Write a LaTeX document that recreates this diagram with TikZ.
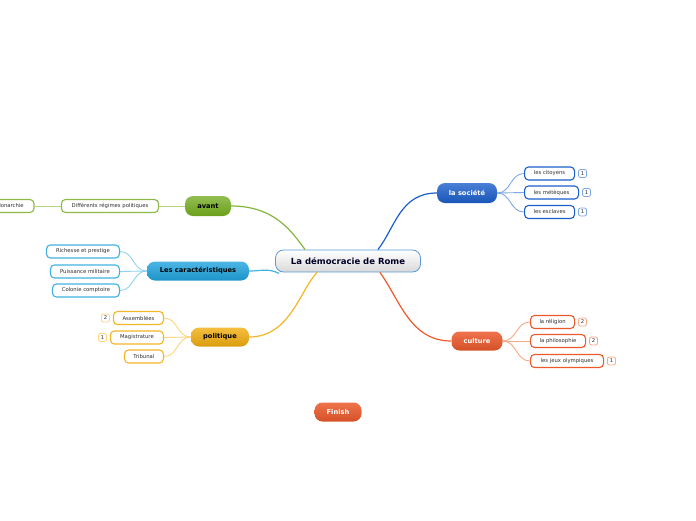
\documentclass[tikz,border=0pt]{standalone}
\usepackage{fontspec}
\setmainfont{DejaVu Sans}
\usetikzlibrary{positioning}

\definecolor{avantc}{HTML}{6FA81A}
\definecolor{avantl}{HTML}{B3D77A}
\definecolor{carc}{HTML}{1FA4DE}
\definecolor{carl}{HTML}{8ED2F2}
\definecolor{polc}{HTML}{F2AE0F}
\definecolor{poll}{HTML}{FAD57C}
\definecolor{socc}{HTML}{1B5FCC}
\definecolor{socl}{HTML}{7FA7E6}
\definecolor{culc}{HTML}{EC5A2C}
\definecolor{cull}{HTML}{F6A88A}
\definecolor{romeb}{HTML}{5B9BD5}
\definecolor{leaftext}{HTML}{2E2E2E}

\tikzset{
  topic/.style={rounded corners=8pt,minimum height=19pt,inner sep=0pt,
    font=\fontsize{6.7}{8}\selectfont\bfseries},
  leaf/.style={draw,fill=white,rounded corners=4pt,line width=1.1pt,
    minimum height=13pt,inner sep=0pt,text=leaftext,
    font=\fontsize{5.3}{6}\selectfont},
  badge/.style={draw,fill=white,rounded corners=2pt,line width=0.8pt,
    minimum size=8pt,inner sep=0pt,text=leaftext,
    font=\fontsize{5.3}{6}\selectfont},
  link/.style={line width=0.9pt},
  mainlink/.style={line width=1.2pt}
}

\begin{document}
\begin{tikzpicture}[x=1pt,y=-1pt]
\useasboundingbox (0,0) rectangle (696,520);
\clip (0,0) rectangle (696,520);
\def\gap{3pt}
% ================= centre =================
\node[topic,draw=romeb,line width=0.8pt,top color=white,bottom color=gray!30,
  minimum width=145pt,minimum height=22pt,text=black!85!blue,
  font=\fontsize{8.5}{10}\selectfont\bfseries] (rome) at (348,261) {La démocracie de Rome};
% ================= main topics =================
\node[topic,top color=avantc!75,bottom color=avantc!95!black,minimum width=46pt,
  minimum height=20pt,text=black] (avant) at (208,206) {avant};
\node[topic,top color=carc!80,bottom color=carc!90!black,minimum width=102pt,
  text=black] (car) at (198,271) {Les caractéristiques};
\node[topic,top color=polc!80,bottom color=polc!90!black,minimum width=58pt,
  text=black] (pol) at (220,337) {politique};
\node[topic,top color=socc!80,bottom color=socc!90!black,minimum width=60pt,
  minimum height=20pt,text=white] (soc) at (467,193) {la société};
\node[topic,top color=culc!85,bottom color=culc!90!black,minimum width=51pt,
  text=white] (cul) at (477,341) {culture};
\node[topic,top color=culc!85,bottom color=culc!90!black,minimum width=47pt,
  text=white] (finish) at (338,412) {Finish};
% links to the centre
\draw[mainlink,avantc!85] (avant.east) .. controls (275,206) and (292,232) .. ([xshift=30pt]rome.north west);
\draw[mainlink,carc!85] (car.east) .. controls (262,271) and (268,268) .. ([xshift=4pt,yshift=-1pt]rome.south west);
\draw[mainlink,polc!90] (pol.east) .. controls (290,337) and (300,290) .. ([xshift=42pt]rome.south west);
\draw[mainlink,socc] (soc.west) .. controls (400,193) and (395,228) .. ([xshift=-43pt]rome.north east);
\draw[mainlink,culc] (cul.west) .. controls (410,341) and (400,300) .. ([xshift=-41pt]rome.south east);
% ================= avant =================
\node[leaf,draw=avantc!80,minimum width=97pt] (diff) at (110,206) {Différents régimes politiques};
\node[leaf,draw=avantc!80,minimum width=48pt] (mon) at (10,206) {Monarchie};
\draw[link,avantl] (avant.west) -- (diff.east);
\draw[link,avantl] (diff.west) -- (mon.east);
% ================= les caractéristiques =================
\foreach \lab/\y/\w [count=\i] in {Richesse et prestige/251.5/73,
  Puissance militaire/271.5/69,Colonie comptoire/290.5/67}{
  \node[leaf,draw=carc!85,minimum width=\w pt,anchor=east] (car\i) at (120,\y) {\lab};
  \draw[link,carl] (car.west) .. controls +(-14,0) and +(14,0) .. (car\i.east);
}
% ================= politique =================
\foreach \lab/\y/\w/\k [count=\i] in {Assemblées/318/50/2,Magistrature/337.5/53/1,
  Tribunal/356.5/39/}{
  \node[leaf,draw=polc!90,minimum width=\w pt,anchor=east] (pol\i) at (164,\y) {\lab};
  \draw[link,poll] (pol.west) .. controls +(-14,0) and +(14,0) .. (pol\i.east);
}
\node[badge,draw=poll,left=\gap of pol1] (polb1) {2};
\node[badge,draw=poll,left=\gap of pol2] (polb2) {1};
% ================= la société =================
\foreach \lab/\y/\w/\k [count=\i] in {les citoyens/173.5/50/1,les métèques/192.5/54/1,
  les esclaves/212/50/1}{
  \node[leaf,draw=socc,minimum width=\w pt,anchor=west] (soc\i) at (524,\y) {\lab};
  \node[badge,draw=socl,right=\gap of soc\i] (socb\i) {\k};
  \draw[link,socl] (soc.east) .. controls +(14,0) and +(-14,0) .. (soc\i.west);
}
% ================= culture =================
\foreach \lab/\y/\w/\k [count=\i] in {la réligion/322/44/2,la philosophie/341/55/2,
  les jeux olympiques/361/73/1}{
  \node[leaf,draw=culc,minimum width=\w pt,anchor=west] (cul\i) at (530,\y) {\lab};
  \node[badge,draw=cull,right=\gap of cul\i] (culb\i) {\k};
  \draw[link,cull] (cul.east) .. controls +(14,0) and +(-14,0) .. (cul\i.west);
}
\end{tikzpicture}
\end{document}
